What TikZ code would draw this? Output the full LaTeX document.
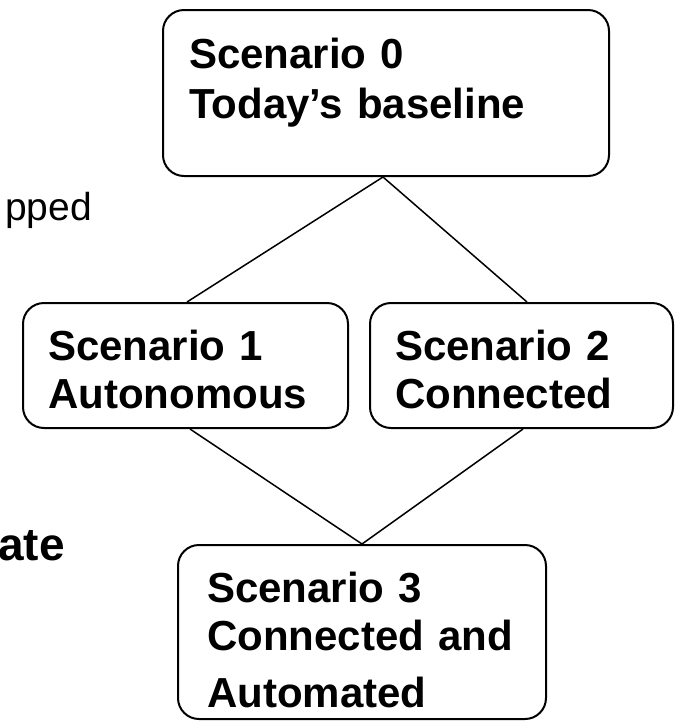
\documentclass[tikz,border=0pt]{standalone}
\usepackage{fontspec}
\setmainfont{Liberation Sans}
\usetikzlibrary{calc}
\tikzset{
  box/.style={draw=black, line width=2pt, rounded corners=21pt, inner sep=0pt, anchor=north west},
  txt/.style={inner sep=0pt, anchor=base west, text width=#1, align=left,
    font=\fontsize{42}{48}\selectfont\bfseries},
  conn/.style={draw=black, line width=1.5pt},
}
\begin{document}
\begin{tikzpicture}[x=1pt, y=-1pt]
\useasboundingbox (0,0) rectangle (698,721);
% boxes
\node[box, minimum width=446pt, minimum height=166pt] (b0) at (162,9) {};
\node[box, minimum width=325pt, minimum height=125pt] (b1) at (22,302) {};
\node[box, minimum width=303pt, minimum height=125pt] (b2) at (369,302) {};
\node[box, minimum width=368pt, minimum height=174pt] (b3) at (177,544) {};
% connectors
\coordinate (top) at ($(b0.south west)+(221,0)$);
\coordinate (bot) at ($(b3.north west)+(185,0)$);
\draw[conn] (top) -- ($(b1.north west)+(165,0)$);
\draw[conn] (top) -- ($(b2.north west)+(158,0)$);
\draw[conn] ($(b1.south west)+(168,0)$) -- (bot);
\draw[conn] ($(b2.south west)+(154,0)$) -- (bot);
% texts
\node[txt=400pt, font=\fontsize{42}{50}\selectfont\bfseries] (t0) at (189,68) {Scenario 0\\Today’s baseline};
\node[txt=290pt] (t1) at (48,360) {Scenario 1\\Autonomous};
\node[txt=270pt] (t2) at (395,360) {Scenario 2\\Connected};
\node[txt=330pt] (t3) at (207,602) {Scenario 3\\Connected and\\[9pt]Automated};
% cut-off texts at left edge
\node[inner sep=0pt, anchor=base east, font=\fontsize{39}{45}\selectfont] (tp) at (92,220) {pped};
\node[inner sep=0pt, anchor=base east, font=\fontsize{46}{52}\selectfont\bfseries] (ta) at (65,560) {ate};
\end{tikzpicture}
\end{document}
